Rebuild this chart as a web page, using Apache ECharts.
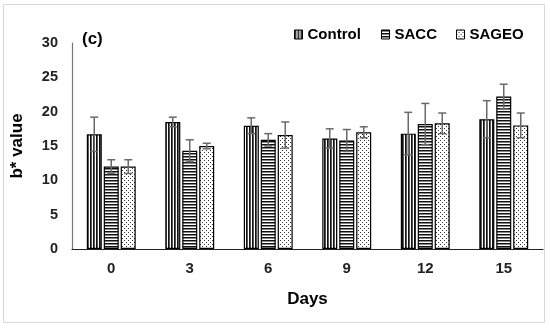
<!DOCTYPE html>
<html><head><meta charset="utf-8">
<script src="https://cdn.jsdelivr.net/npm/echarts@6/dist/echarts.min.js"></script>
<style>html,body{margin:0;padding:0;background:#fff}#c{width:550px;height:329px}</style>
</head><body><div id="c"></div>
<script>
const days = ['0','3','6','9','12','15'];
const seriesNames = ['Control','SACC','SAGEO'];
const controlVals = [16.7, 18.5, 17.95, 16.1, 16.8, 18.9];
const saccVals = [12.0, 14.3, 15.9, 15.8, 18.2, 22.2];
const sageoVals = [12.0, 15.0, 16.6, 17.0, 18.3, 18.0];
const controlErr = [2.5, 0.7, 1.15, 1.4, 3.1, 2.7];
const saccErr = [1.0, 1.6, 0.9, 1.6, 3.0, 1.8];
const sageoErr = [1.0, 0.4, 1.9, 0.8, 1.5, 1.8];
const yTicks = [0,5,10,15,20,25,30];

function pat(kind){
  const c=document.createElement('canvas');
  const ctx=c.getContext('2d');
  if(kind==='v'){c.width=3;c.height=3;ctx.fillStyle='#fff';ctx.fillRect(0,0,3,3);ctx.fillStyle='#111';ctx.fillRect(0,0,1.7,3);}
  else if(kind==='h'){c.width=3;c.height=3;ctx.fillStyle='#fff';ctx.fillRect(0,0,3,3);ctx.fillStyle='#111';ctx.fillRect(0,0,3,1.5);}
  else {c.width=4;c.height=4;ctx.fillStyle='#fff';ctx.fillRect(0,0,4,4);ctx.fillStyle='#333';ctx.fillRect(0,0,1,1);ctx.fillRect(2,2,1,1);}
  return {image:c,repeat:'repeat'};
}
const pats=[pat('v'),pat('h'),pat('d')];
const vals=[controlVals,saccVals,sageoVals];
const errs=[controlErr,saccErr,sageoErr];
const offsets=[-17,0,17];

const errData=[];
for(let s=0;s<3;s++){for(let i=0;i<days.length;i++){errData.push([i,vals[s][i]-errs[s][i],vals[s][i]+errs[s][i],s]);}}

const font='Arial, "Liberation Sans", sans-serif';
const chart=echarts.init(document.getElementById('c'),null,{renderer:'canvas'});
const barSeries=seriesNames.map((n,s)=>({
  name:n,type:'bar',data:vals[s],barWidth:15,barGap:'13%',
  itemStyle:{color:pats[s],borderColor:'#000',borderWidth:1.2}
}));
const legendLefts=[294,381,456];
chart.setOption({
  animation:false,
  backgroundColor:'#fff',
  grid:{left:72,right:7,top:43,bottom:80,containLabel:false},
  legend:seriesNames.map((n,s)=>({left:legendLefts[s],top:27,padding:0,itemWidth:8,itemHeight:9,icon:'rect',data:[n],
    textStyle:{fontFamily:font,fontWeight:'bold',fontSize:15,color:'#000'},
    itemStyle:{borderColor:'#000',borderWidth:1}})),
  xAxis:{type:'category',data:days,name:'Days',nameLocation:'middle',nameGap:42,
    nameTextStyle:{fontFamily:font,fontWeight:'bold',fontSize:17,color:'#000'},
    axisLine:{lineStyle:{color:'#222',width:1.2}},axisTick:{show:false},
    axisLabel:{fontFamily:font,fontWeight:'bold',fontSize:15,color:'#222',margin:12}},
  yAxis:{type:'value',min:0,max:30,interval:5,name:'b* value',nameLocation:'middle',nameGap:46,
    nameTextStyle:{fontFamily:font,fontWeight:'bold',fontSize:17,color:'#000'},
    axisLine:{show:true,lineStyle:{color:'#777',width:1.2}},axisTick:{show:false},splitLine:{show:false},
    axisLabel:{fontFamily:font,fontWeight:'bold',fontSize:14.5,color:'#222',margin:14,
      formatter:v=>yTicks.includes(v)?String(v):''}},
  graphic:[
    {type:'rect',shape:{x:3.5,y:4.5,width:541,height:318},style:{fill:'none',stroke:'#d8d8d8',lineWidth:1},silent:true},
    {type:'text',left:82,top:31,style:{text:'(c)',font:'bold 17px '+font,fill:'#000'}}
  ],
  series:[...barSeries,{
    type:'custom',name:'err',data:errData,z:10,silent:true,
    renderItem:(params,api)=>{
      const s=api.value(3);
      const lo=api.coord([api.value(0),api.value(1)]);
      const hi=api.coord([api.value(0),api.value(2)]);
      const x=lo[0]+offsets[s];
      const hw=4;
      const st={stroke:'#6a6a6a',lineWidth:1.5};
      return {type:'group',children:[
        {type:'line',shape:{x1:x,y1:lo[1],x2:x,y2:hi[1]},style:st},
        {type:'line',shape:{x1:x-hw,y1:hi[1],x2:x+hw,y2:hi[1]},style:st},
        {type:'line',shape:{x1:x-hw,y1:lo[1],x2:x+hw,y2:lo[1]},style:st}
      ]};
    },
    encode:{x:0,y:[1,2]}
  }]
});
</script></body></html>
